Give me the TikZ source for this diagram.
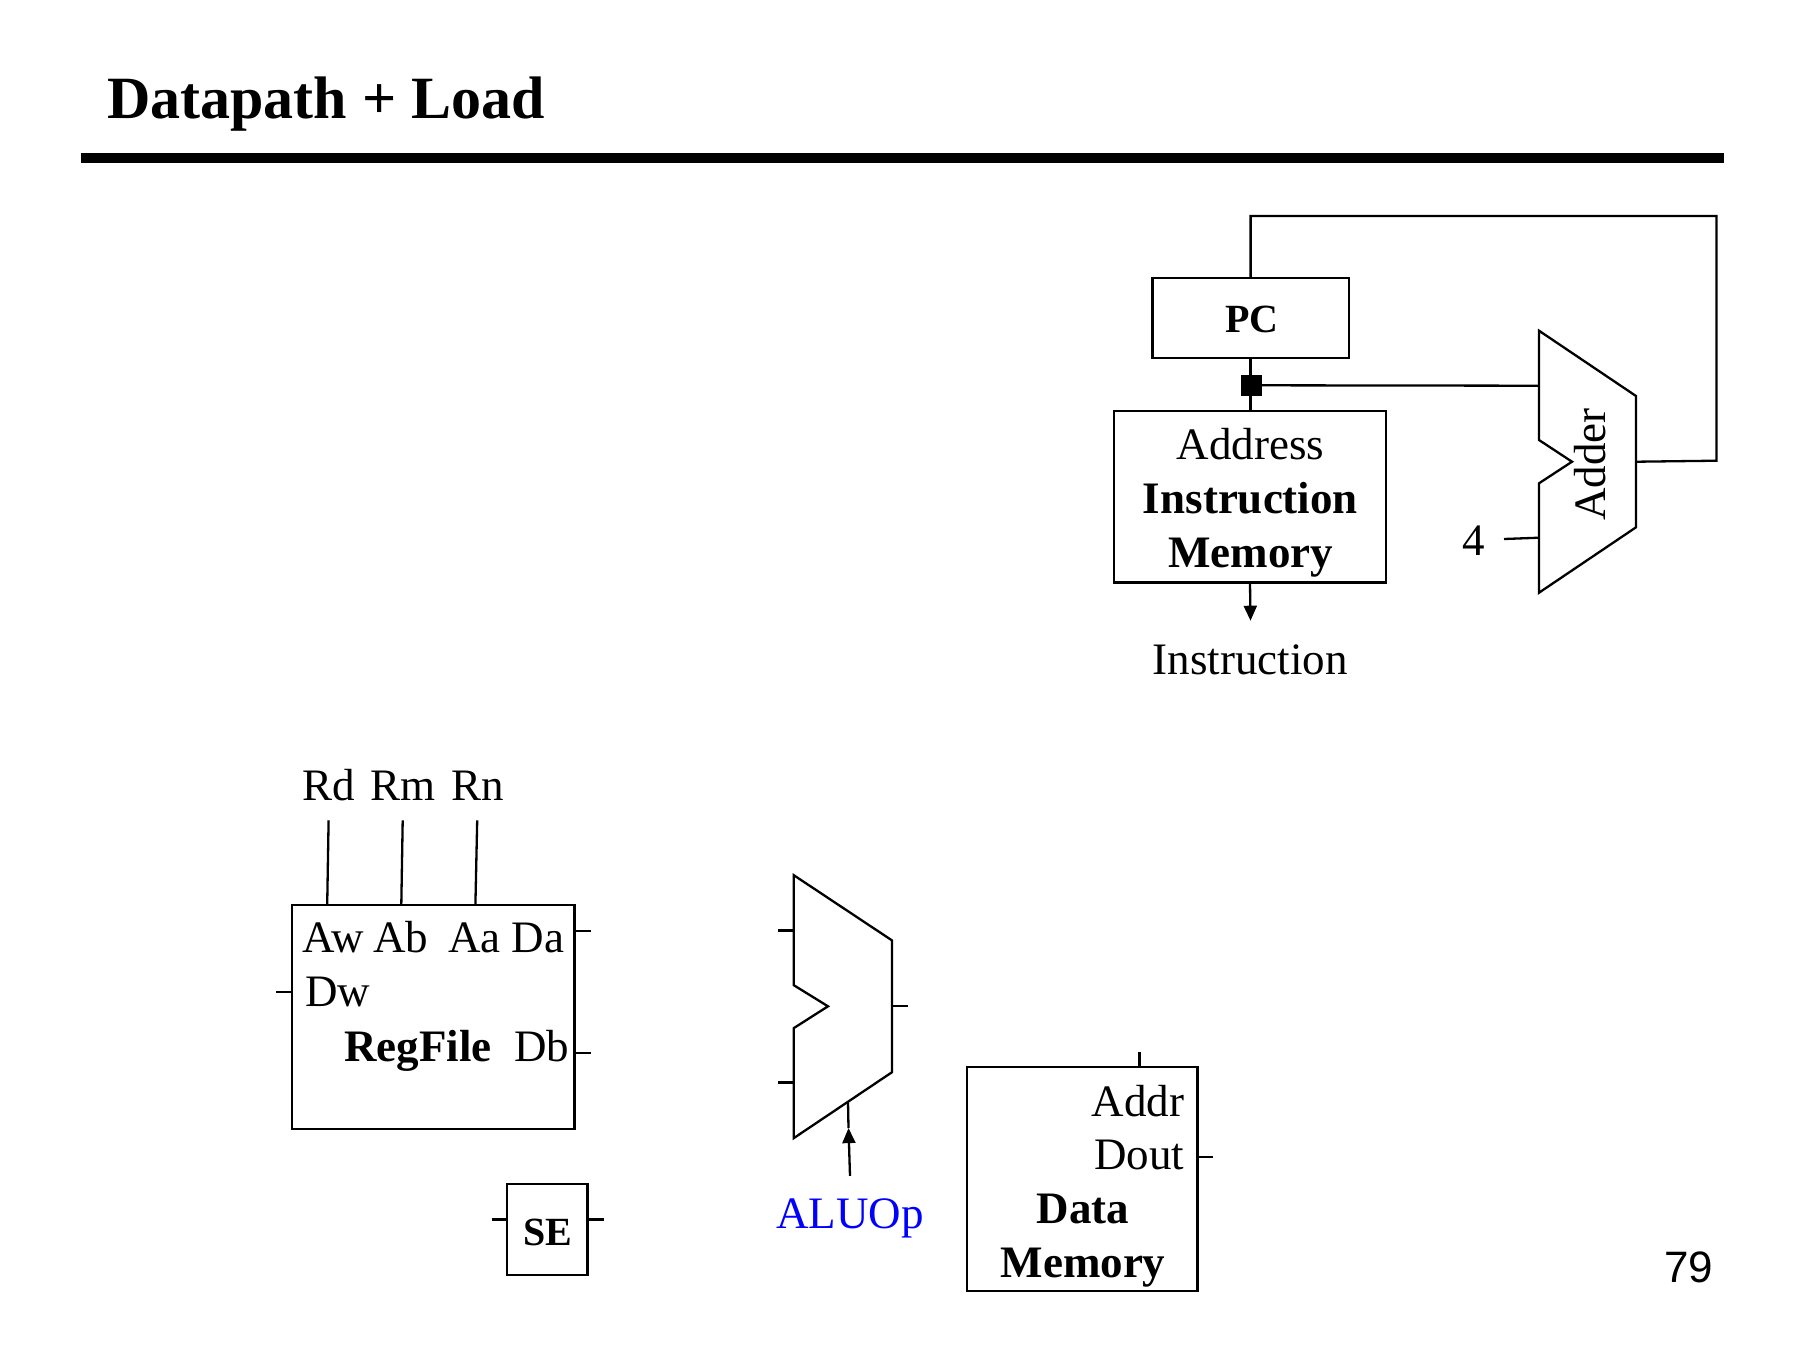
\documentclass[tikz,border=0pt]{standalone}
\usepackage{fontspec}
\setmainfont{Liberation Serif}
\newfontfamily\numfont{Liberation Sans}
\usetikzlibrary{arrows.meta}
\definecolor{opblue}{RGB}{0,0,255}
\tikzset{
  x=1pt,y=-1pt,
  wire/.style={draw=black,line width=2.3pt},
  boxnode/.style={draw=black,line width=2.4pt,rectangle,inner sep=0pt,outer sep=0pt},
  lbl/.style={anchor=base,inner sep=0pt,outer sep=0pt,yshift=-1pt,font=\fontsize{45}{50}\selectfont},
  blbl/.style={lbl,font=\fontsize{45}{50}\selectfont\bfseries},
  sblbl/.style={lbl,font=\fontsize{40}{46}\selectfont\bfseries},
  flow/.style={wire,-{Triangle[length=15pt,width=13pt]}},
}
\begin{document}
\begin{tikzpicture}
\useasboundingbox[fill=white] (0,0) rectangle (1800,1350);

% title
\node[lbl,anchor=base west,font=\fontsize{60}{66}\selectfont\bfseries] (title) at (107,117.6) {Datapath + Load};
\coordinate (ruleL) at (81,157.7);
\coordinate (ruleR) at (1723.5,157.7);
\draw[line width=10pt] (ruleL) -- (ruleR);
\node[lbl,font=\fontsize{44}{50}\numfont] (pagenum) at (1688.5,1281) {79};

% PC + instruction memory
\node[boxnode,minimum width=196.5pt,minimum height=80pt] (pc) at (1250.6,317.7) {};
\node[sblbl] (pctext) at (1252,331.2) {PC};
\node[boxnode,minimum width=272pt,minimum height=171.6pt] (im) at (1250,496.5) {};
\node[lbl] (imaddr) at (1250.5,458.5) {Address};
\node[blbl] (iminst) at (1250.5,512.5) {Instruction};
\node[blbl] (immem) at (1250.5,566.7) {Memory};
\draw[wire] (pc.south) -- (im.north -| pc.south);
\node[fill=black,draw=none,minimum size=20.5pt,inner sep=0pt,outer sep=0pt] (junction) at (1251.5,385.3) {};
\node[lbl] (instr) at (1250,673) {Instruction};
\coordinate (instrtip) at (1250.5,620.7);
\draw[flow] (im.south) -- (instrtip);

% adder
\coordinate (a1) at (1539,330.7);
\coordinate (a2) at (1636,396);
\coordinate (a3) at (1636,527.3);
\coordinate (a4) at (1539,592.7);
\coordinate (a5) at (1539,483.3);
\coordinate (a6) at (1572,461.7);
\coordinate (a7) at (1539,440);
\draw[wire,line join=miter] (a1) -- (a2) -- (a3) -- (a4) -- (a5) -- (a6) -- (a7) -- cycle;
\node[lbl,rotate=90] (addertext) at (1605,463.5) {Adder};
\node[lbl] (four) at (1474,554.5) {4};
\coordinate (fourend) at (1504,539);
\coordinate (addin4) at (1539,537.7);
\coordinate (addin1) at (1539,385.7);
\coordinate (addout) at (1637,461.7);
\coordinate (bendR) at (1716.5,460.7);
\coordinate (topR) at (1716.5,216);
\coordinate (topL) at (1250.6,216);
\draw[wire] (fourend) -- (addin4);
\draw[wire] (junction.east) -- (addin1);
\draw[wire] (addout) -- (bendR) -- (topR) -- (topL) -- (pc.north);

% register file
\node[boxnode,minimum width=282.6pt,minimum height=224.1pt] (rf) at (433.3,1016.85) {};
\node[lbl] (rd) at (328.6,799.3) {Rd};
\node[lbl] (rm) at (402.7,799.3) {Rm};
\node[lbl] (rn) at (477.5,799.3) {Rn};
\coordinate (rdend) at (328.6,820.4);
\coordinate (rmend) at (402.7,820.4);
\coordinate (rnend) at (477.2,820.4);
\coordinate (awin) at (327.2,904.8);
\coordinate (abin) at (401.3,904.8);
\coordinate (aain) at (475.4,904.8);
\draw[wire] (rdend) -- (awin);
\draw[wire] (rmend) -- (abin);
\draw[wire] (rnend) -- (aain);
\node[lbl] (aw) at (333.4,951.9) {Aw};
\node[lbl] (ab) at (400.5,951.9) {Ab};
\node[lbl] (aa) at (474.6,951.9) {Aa};
\node[lbl] (da) at (538,951.9) {Da};
\node[lbl] (dw) at (337.7,1005.9) {Dw};
\node[blbl] (rftext) at (417.8,1060.4) {RegFile};
\node[lbl] (db) at (541.6,1060.4) {Db};
\coordinate (dwend) at (276.3,991.9);
\coordinate (dwin) at (292,991.9);
\coordinate (daout) at (574.6,931.1);
\coordinate (daend) at (590.6,931.1);
\coordinate (dbout) at (574.6,1053);
\coordinate (dbend) at (590.6,1053);
\draw[wire] (dwend) -- (dwin);
\draw[wire] (daout) -- (daend);
\draw[wire] (dbout) -- (dbend);

% sign extend
\node[boxnode,minimum width=80.5pt,minimum height=91.5pt] (se) at (547.2,1229.45) {};
\node[sblbl] (setext) at (547.7,1244) {SE};
\coordinate (seinend) at (491.5,1219.6);
\coordinate (seoutend) at (603.5,1219.6);
\coordinate (sein) at (507,1219.6);
\coordinate (seout) at (587.5,1219.6);
\draw[wire] (seinend) -- (sein);
\draw[wire] (seout) -- (seoutend);

% ALU
\coordinate (b1) at (793.8,875.2);
\coordinate (b2) at (892,940.4);
\coordinate (b3) at (892,1072.2);
\coordinate (b4) at (793.8,1138.1);
\coordinate (b5) at (793.8,1028.1);
\coordinate (b6) at (828,1006.3);
\coordinate (b7) at (793.8,985.2);
\draw[wire,line join=miter] (b1) -- (b2) -- (b3) -- (b4) -- (b5) -- (b6) -- (b7) -- cycle;
\coordinate (alua) at (793.8,930.4);
\coordinate (aluaend) at (778,930.4);
\coordinate (alub) at (793.8,1082.6);
\coordinate (alubend) at (778,1082.6);
\coordinate (aluout) at (892,1006.3);
\coordinate (aluoutend) at (907.6,1006.3);
\draw[wire] (aluaend) -- (alua);
\draw[wire] (alubend) -- (alub);
\draw[wire] (aluout) -- (aluoutend);
\coordinate (alubot) at (848,1101.5);
\coordinate (aluoptip) at (848.5,1128.1);
\coordinate (aluopend) at (850,1175.9);
\draw[wire] (aluoptip) -- (alubot);
\draw[flow] (aluopend) -- (aluoptip);
\node[lbl,text=opblue] (aluop) at (850,1227.6) {ALUOp};

% data memory
\node[boxnode,minimum width=230.4pt,minimum height=224.3pt] (dm) at (1082.2,1178.9) {};
\node[lbl,anchor=base east] (addr) at (1184,1115) {Addr};
\node[lbl,anchor=base east] (dout) at (1184,1168.3) {Dout};
\node[blbl] (dmdata) at (1083,1222.7) {Data};
\node[blbl] (dmmem) at (1083,1276.7) {Memory};
\coordinate (addrend) at (1139.6,1051.7);
\coordinate (addrin) at (1139.6,1066.7);
\coordinate (doutout) at (1197.4,1157.3);
\coordinate (doutend) at (1212.5,1157.3);
\draw[wire] (addrend) -- (addrin);
\draw[wire] (doutout) -- (doutend);
\end{tikzpicture}
\end{document}
